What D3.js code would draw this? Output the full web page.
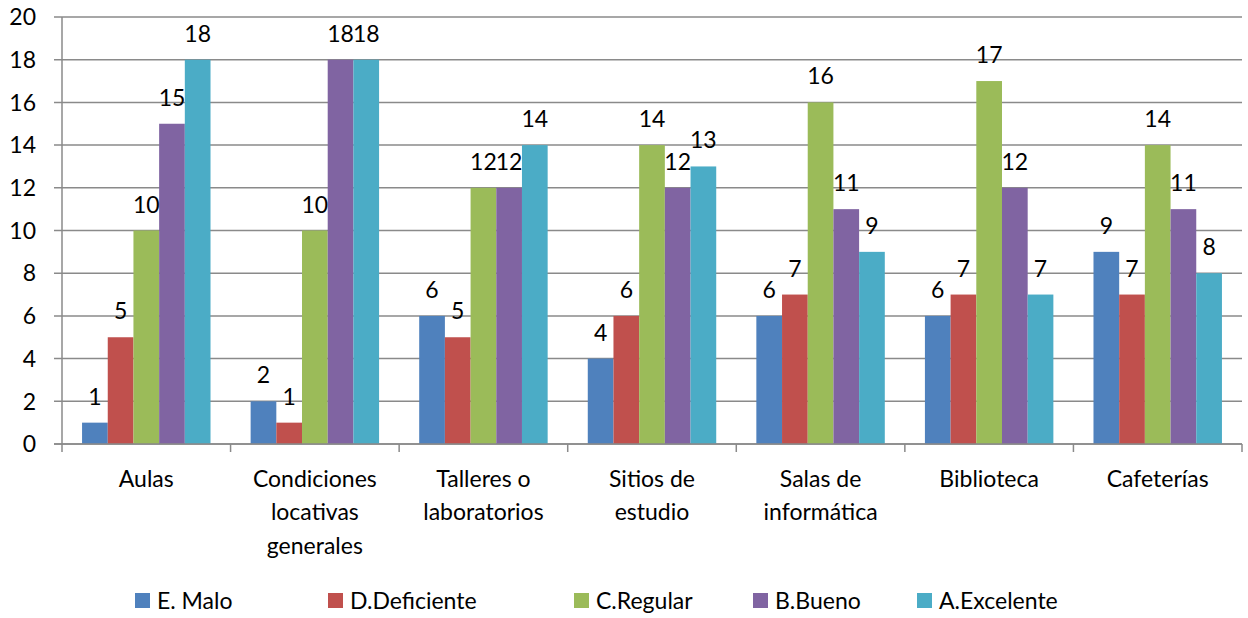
<!DOCTYPE html>
<html><head><meta charset="utf-8">
<script src="https://cdn.jsdelivr.net/npm/d3@7"></script>
<style>body{margin:0;background:#fff}svg{display:block}text{font-family:Lato,"Open Sans",sans-serif;fill:#000}</style>
</head><body><svg id="c" width="1248" height="618"></svg>
<script>
const categories = [["Aulas"],["Condiciones","locativas","generales"],["Talleres o","laboratorios"],["Sitios de","estudio"],["Salas de","informática"],["Biblioteca"],["Cafeterías"]];
const seriesNames = ["E. Malo","D.Deficiente","C.Regular","B.Bueno","A.Excelente"];
const malo = [1,2,6,4,6,6,9];
const deficiente = [5,1,5,6,7,7,7];
const regular = [10,10,12,14,16,17,14];
const bueno = [15,18,12,12,11,12,11];
const excelente = [18,18,14,13,9,7,8];
const yTicks = [0,2,4,6,8,10,12,14,16,18,20];
const colors = ["#4F81BD","#C0504D","#9BBB59","#8064A2","#4BACC6"];
const seriesVals = [malo,deficiente,regular,bueno,excelente];

const FS = 23;
const svg = d3.select("#c");
const L=62, R=1242, T=17, B=444;
const x0 = d3.scaleBand().domain(d3.range(categories.length)).range([L,R]).padding(0);
const bw = x0.bandwidth();
const gap = bw*0.119;
const x1 = d3.scaleBand().domain(d3.range(seriesNames.length)).range([gap,bw-gap]).padding(0);
const y = d3.scaleLinear().domain([0,20]).range([B,T]);

svg.append("g").selectAll("line").data(yTicks).join("line")
  .attr("x1",54).attr("x2",R).attr("y1",d=>y(d)).attr("y2",d=>y(d))
  .attr("stroke","#8a8a8a").attr("stroke-width",1.5);
svg.append("line").attr("x1",L).attr("x2",L).attr("y1",T).attr("y2",B).attr("stroke","#8a8a8a").attr("stroke-width",1.5);
svg.append("g").selectAll("text").data(yTicks).join("text")
  .attr("x",36).attr("y",d=>y(d)).attr("dy","0.36em").attr("text-anchor","end")
  .attr("font-size",FS).text(d=>d);
svg.append("g").selectAll("line").data(d3.range(categories.length+1)).join("line")
  .attr("x1",d=>L+d*bw).attr("x2",d=>L+d*bw).attr("y1",B).attr("y2",B+8)
  .attr("stroke","#8a8a8a").attr("stroke-width",1.5);

const groups = svg.append("g").selectAll("g").data(categories).join("g")
  .attr("transform",(d,i)=>`translate(${x0(i)},0)`);
groups.each(function(c,ci){
  const g = d3.select(this);
  seriesVals.forEach((vals,si)=>{
    const v = vals[ci];
    g.append("rect").attr("x",x1(si)).attr("width",x1.bandwidth())
      .attr("y",y(v)).attr("height",y(0)-y(v)).attr("fill",colors[si]);
  });
  seriesVals.forEach((vals,si)=>{
    const v = vals[ci];
    g.append("text").attr("x",x1(si)+x1.bandwidth()/2).attr("y",y(v)-18)
      .attr("text-anchor","middle").attr("font-size",FS).text(v);
  });
  const t = g.append("text").attr("text-anchor","middle").attr("font-size",FS);
  c.forEach((line,li)=>t.append("tspan").attr("x",bw/2).attr("y",487+li*33.3).text(line));
});
svg.append("line").attr("x1",54).attr("x2",R).attr("y1",B).attr("y2",B).attr("stroke","#8a8a8a").attr("stroke-width",1.5);

const legendX = [135,328,574,753,917];
const lg = svg.append("g").selectAll("g").data(seriesNames).join("g")
  .attr("transform",(d,i)=>`translate(${legendX[i]},593)`);
lg.append("rect").attr("width",15).attr("height",15).attr("fill",(d,i)=>colors[i]);
lg.append("text").attr("x",22).attr("y",7.5).attr("dy","0.36em").attr("font-size",FS).text(d=>d);
</script></body></html>
